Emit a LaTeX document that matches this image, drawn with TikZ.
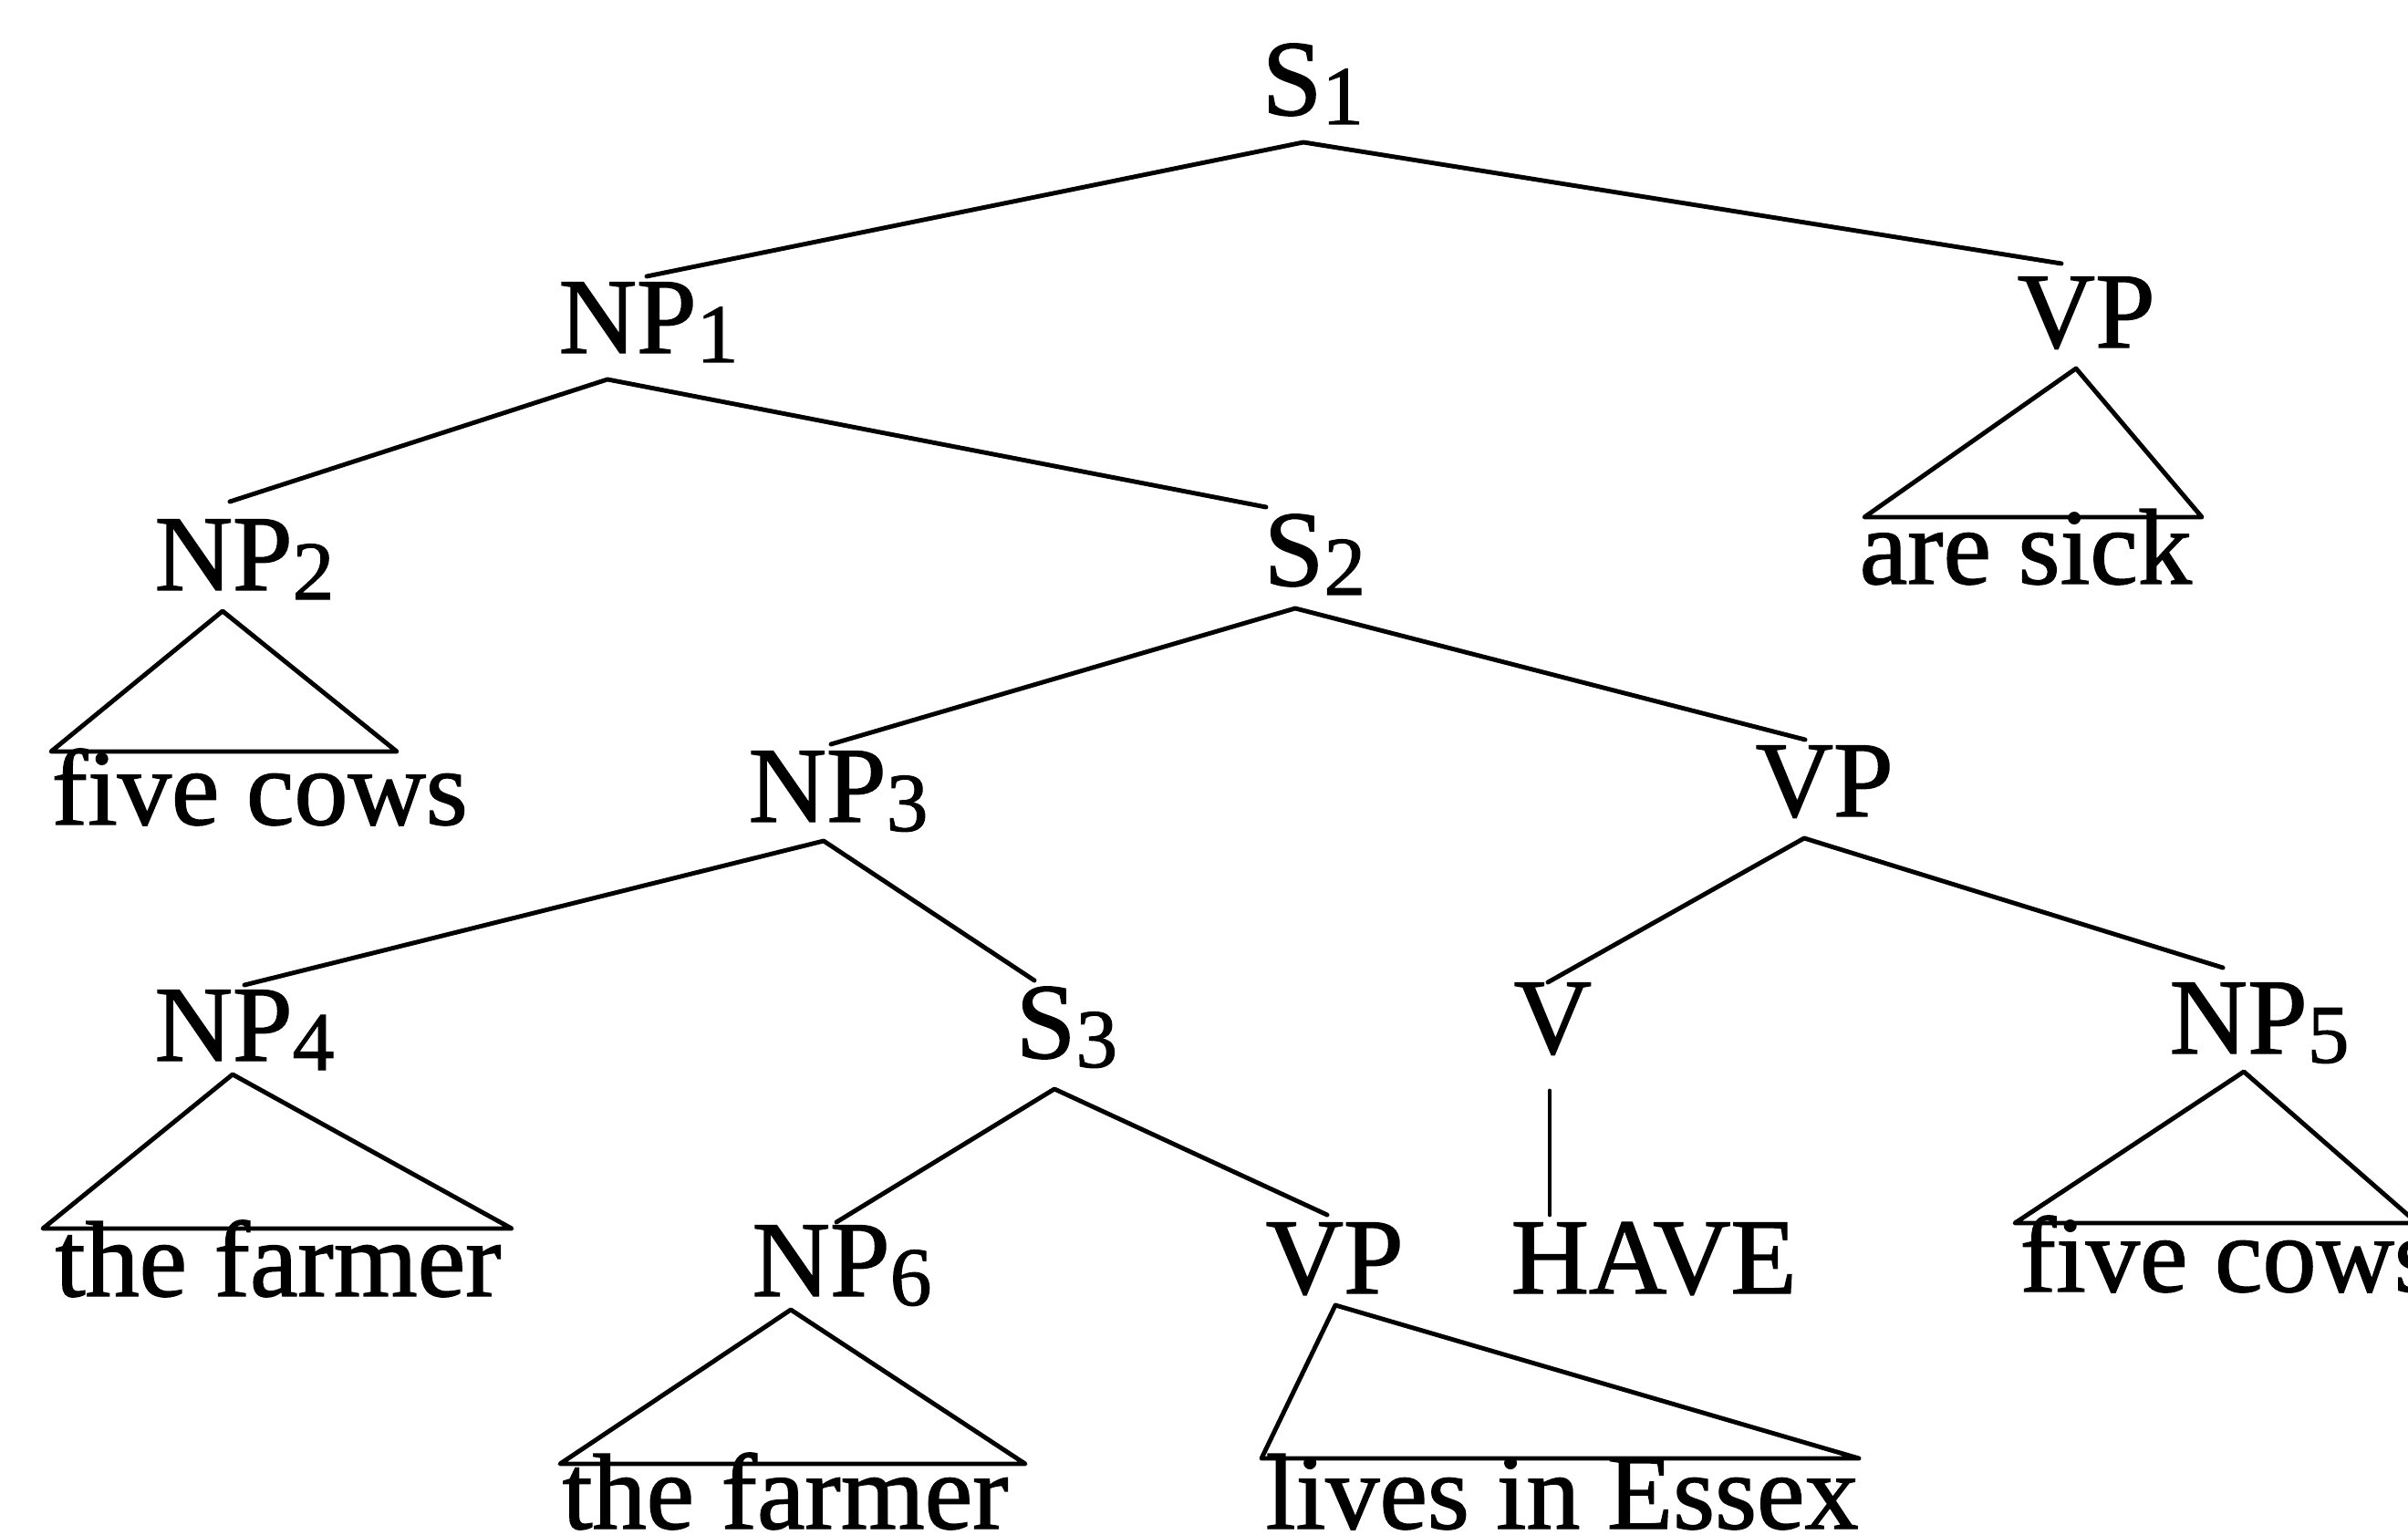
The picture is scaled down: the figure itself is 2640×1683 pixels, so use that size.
\documentclass[tikz,border=0pt]{standalone}
\usepackage{fontspec}
\setmainfont{Liberation Serif}[FakeBold=1.2]
\newcommand{\sbs}[1]{\raisebox{-0.1cm}{\fontsize{26pt}{30pt}\selectfont #1}}
\begin{document}
\begin{tikzpicture}[x=0.01cm,y=-0.01cm,
  lab/.style={anchor=base west,inner sep=0pt,font=\fontsize{33.6pt}{40pt}\selectfont},
  br/.style={line width=1.4pt,line join=round,line cap=round}]
\useasboundingbox (0,0) rectangle (2640,1683);
% labels
\node[lab] (S1) at (1383,126) {S\sbs{1}};
\node[lab] (NP1) at (612,387) {NP\sbs{1}};
\node[lab] (VPa) at (2211,381) {VP};
\node[lab] (NP2) at (169,647) {NP\sbs{2}};
\node[lab] (S2) at (1385,642) {S\sbs{2}};
\node[lab] (aresick) at (2038,640) {are sick};
\node[lab] (fc1) at (56,904) {five cows};
\node[lab] (NP3) at (820,901) {NP\sbs{3}};
\node[lab] (VPb) at (1924,895) {VP};
\node[lab] (NP4) at (169,1163) {NP\sbs{4}};
\node[lab] (S3) at (1113,1160) {S\sbs{3}};
\node[lab] (V) at (1659,1155) {V};
\node[lab] (NP5) at (2378,1155) {NP\sbs{5}};
\node[lab] (tf1) at (60,1421) {the farmer};
\node[lab] (NP6) at (824,1421) {NP\sbs{6}};
\node[lab] (VPc) at (1387,1418) {VP};
\node[lab] (HAVE) at (1656,1418) {HAVE};
\node[lab] (fc2) at (2214,1416) {five cows};
\node[lab] (tf2) at (616,1676) {the farmer};
\node[lab] (lie) at (1387,1676) {lives in Essex};
% attachment points
\coordinate (S1a) at (1429,156);
\coordinate (NP1t) at (709,303);
\coordinate (VPat) at (2260,289);
\coordinate (NP1a) at (666,416);
\coordinate (NP2t) at (252,550);
\coordinate (S2t) at (1388,556);
\coordinate (VPaa) at (2276,404);
\coordinate (VPaL) at (2044,567);
\coordinate (VPaR) at (2414,567);
\coordinate (NP2a) at (244,670);
\coordinate (NP2L) at (56,824);
\coordinate (NP2R) at (435,824);
\coordinate (S2a) at (1420,667);
\coordinate (NP3t) at (911,816);
\coordinate (VPbt) at (1979,811);
\coordinate (NP3a) at (903,922);
\coordinate (NP4t) at (268,1080);
\coordinate (S3t) at (1134,1075);
\coordinate (VPba) at (1978,919);
\coordinate (Vt) at (1697,1077);
\coordinate (NP5t) at (2437,1061);
\coordinate (NP4a) at (255,1178);
\coordinate (NP4L) at (47,1347);
\coordinate (NP4R) at (561,1347);
\coordinate (S3a) at (1156,1194);
\coordinate (NP6t) at (917,1340);
\coordinate (VPct) at (1455,1332);
\coordinate (Va) at (1699,1196);
\coordinate (HAVEt) at (1699,1332);
\coordinate (NP5a) at (2460,1175);
\coordinate (NP5L) at (2209,1341);
\coordinate (NP5R) at (2650,1341);
\coordinate (NP6a) at (867,1436);
\coordinate (NP6L) at (614,1605);
\coordinate (NP6R) at (1124,1605);
\coordinate (VPca) at (1464,1431);
\coordinate (VPcL) at (1383,1599);
\coordinate (VPcR) at (2038,1599);
% branches
\draw[br] (NP1t) -- (S1a) -- (VPat);
\draw[br] (NP2t) -- (NP1a) -- (S2t);
\draw[br] (NP3t) -- (S2a) -- (VPbt);
\draw[br] (NP4t) -- (NP3a) -- (S3t);
\draw[br] (Vt) -- (VPba) -- (NP5t);
\draw[br] (NP6t) -- (S3a) -- (VPct);
\draw[br] (Va) -- (HAVEt);
% triangles
\draw[br] (VPaL) -- (VPaa) -- (VPaR) -- cycle;
\draw[br] (NP2L) -- (NP2a) -- (NP2R) -- cycle;
\draw[br] (NP4L) -- (NP4a) -- (NP4R) -- cycle;
\draw[br] (NP5L) -- (NP5a) -- (NP5R) -- cycle;
\draw[br] (NP6L) -- (NP6a) -- (NP6R) -- cycle;
\draw[br] (VPcL) -- (VPca) -- (VPcR) -- cycle;
\end{tikzpicture}
\end{document}
